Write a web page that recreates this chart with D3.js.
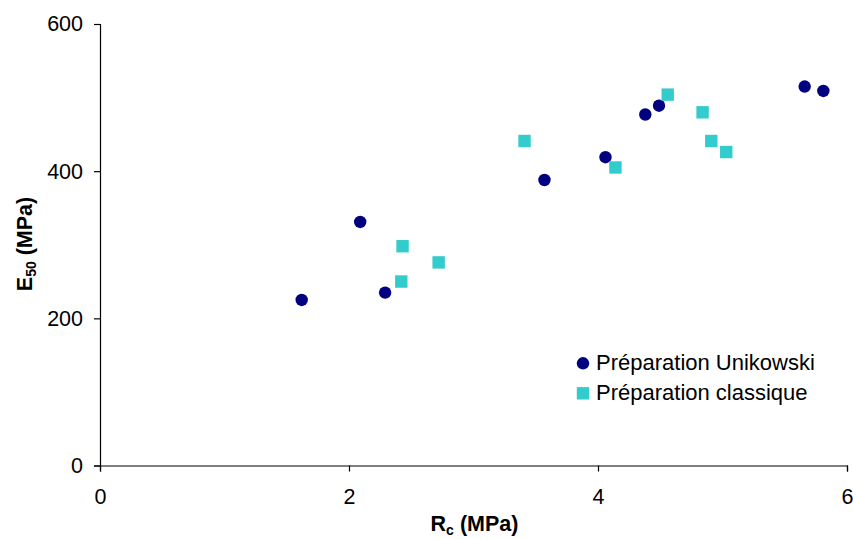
<!DOCTYPE html>
<html>
<head>
<meta charset="utf-8">
<script src="https://cdn.jsdelivr.net/npm/d3@7"></script>
<style>
  html, body { margin: 0; padding: 0; background: #fff; }
  svg { display: block; font-family: "Liberation Sans", Arial, sans-serif; }
</style>
</head>
<body>
<svg id="chart" width="853" height="539"></svg>
<script>
const unikowskiX = [1.62, 2.09, 2.29, 3.57, 4.06, 4.38, 4.49, 5.66, 5.81];
const unikowskiY = [225, 331, 235, 388, 419, 477, 489, 515, 509];
const classiqueX = [2.43, 2.42, 2.72, 3.41, 4.14, 4.56, 4.84, 4.91, 5.03];
const classiqueY = [298, 250, 276, 441, 405, 504, 480, 441, 426];
const xTicks = [0, 2, 4, 6];
const yTicks = [0, 200, 400, 600];
const seriesNames = ["Préparation Unikowski", "Préparation classique"];
const seriesColors = ["#000080", "#33CCCC"];

const svg = d3.select("#chart");
const x = d3.scaleLinear().domain([0, 6]).range([100, 847]);
const y = d3.scaleLinear().domain([0, 600]).range([465.5, 24]);

const xAxis = svg.append("g").attr("transform", "translate(0,465.5)")
  .call(d3.axisBottom(x).tickValues(xTicks).tickFormat(d3.format("d")).tickSizeOuter(0).tickSize(6).tickPadding(17));
const yAxis = svg.append("g").attr("transform", "translate(100,0)")
  .call(d3.axisLeft(y).tickValues(yTicks).tickFormat(d3.format("d")).tickSizeOuter(0).tickSize(6).tickPadding(11));
[xAxis, yAxis].forEach(g => {
  g.select(".domain").attr("stroke", "#000").attr("stroke-width", 1.2);
  g.selectAll(".tick line").attr("stroke", "#000").attr("stroke-width", 1.2);
  g.selectAll(".tick text").attr("font-size", 21.5).attr("fill", "#000")
    .attr("font-family", "'Liberation Sans', Arial, sans-serif");
});

// Unikowski circles
svg.append("g").selectAll("circle")
  .data(unikowskiX.map((v, i) => [v, unikowskiY[i]]))
  .join("circle")
  .attr("cx", d => x(d[0])).attr("cy", d => y(d[1])).attr("r", 6.2)
  .attr("fill", seriesColors[0]);

// Classique squares
const sq = 12.4;
svg.append("g").selectAll("rect")
  .data(classiqueX.map((v, i) => [v, classiqueY[i]]))
  .join("rect")
  .attr("x", d => x(d[0]) - sq / 2).attr("y", d => y(d[1]) - sq / 2)
  .attr("width", sq).attr("height", sq)
  .attr("fill", seriesColors[1]);

// Axis titles
const xt = svg.append("text").attr("x", 474.5).attr("y", 531)
  .attr("text-anchor", "middle").attr("font-weight", "bold").attr("font-size", 21.5).attr("fill", "#000");
xt.append("tspan").text("R");
xt.append("tspan").attr("font-size", 14).attr("dy", 4).text("c");
xt.append("tspan").attr("dy", -4).text(" (MPa)");

const yt = svg.append("text").attr("transform", "translate(32,244) rotate(-90)")
  .attr("text-anchor", "middle").attr("font-weight", "bold").attr("font-size", 21.5).attr("fill", "#000");
yt.append("tspan").text("E");
yt.append("tspan").attr("font-size", 14).attr("dy", 4).text("50");
yt.append("tspan").attr("dy", -4).text(" (MPa)");

// Legend
const legend = svg.append("g");
legend.append("circle").attr("cx", 583).attr("cy", 363.3).attr("r", 6.2).attr("fill", seriesColors[0]);
legend.append("rect").attr("x", 583 - sq / 2).attr("y", 393.3 - sq / 2).attr("width", sq).attr("height", sq).attr("fill", seriesColors[1]);
legend.selectAll("text.lg").data(seriesNames).join("text")
  .attr("class", "lg")
  .attr("x", 596).attr("y", (d, i) => 370 + i * 30)
  .attr("font-size", 22).attr("fill", "#000").text(d => d);
</script>
</body>
</html>
